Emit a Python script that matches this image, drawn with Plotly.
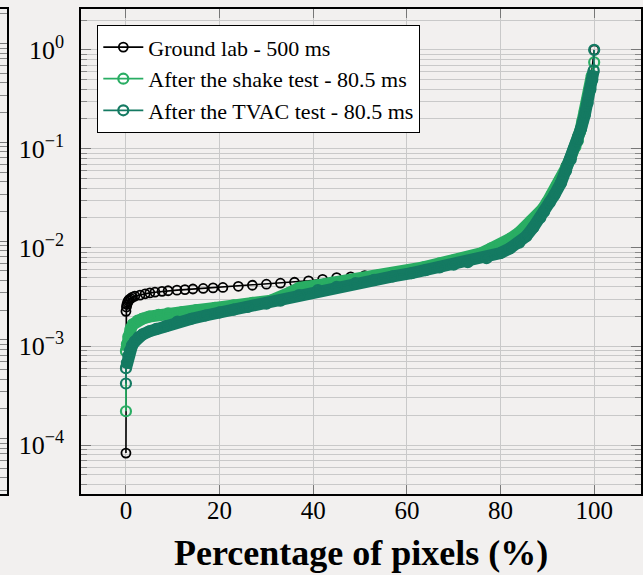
import plotly.graph_objects as go

# ---------------- data ----------------
ground_x = [0, 0, 0.1, 0.2, 0.35, 0.5, 0.7, 1.0, 1.4, 1.9, 3.0, 4.1, 5.1, 6.2, 7.7, 9.0,
            10.9, 12.6, 14.3, 16.5, 18.6, 20.7, 24, 27, 30, 33, 36, 39, 42, 45, 48, 51,
            54, 57, 60, 63, 66, 69, 72, 75, 78, 80, 82, 84, 86, 88, 89.5, 91, 92.5, 94,
            95.5, 96.5, 97.5, 98.5, 99.3, 100]
ground_y = [8.3e-5, 2.26e-3, 2.5e-3, 2.65e-3, 2.78e-3, 2.88e-3, 2.97e-3, 3.05e-3, 3.15e-3,
            3.22e-3, 3.3e-3, 3.4e-3, 3.47e-3, 3.53e-3, 3.6e-3, 3.65e-3, 3.7e-3, 3.75e-3,
            3.8e-3, 3.85e-3, 3.9e-3, 3.94e-3, 4.05e-3, 4.15e-3, 4.25e-3, 4.35e-3, 4.45e-3,
            4.6e-3, 4.75e-3, 4.95e-3, 5.05e-3, 5.2e-3, 5.3e-3, 5.45e-3, 5.7e-3, 6.0e-3,
            6.4e-3, 6.9e-3, 7.5e-3, 8.3e-3, 9.4e-3, 1.04e-2, 1.18e-2, 1.38e-2, 1.68e-2,
            2.1e-2, 2.6e-2, 3.4e-2, 4.8e-2, 6.7e-2, 0.1, 0.135, 0.19, 0.3, 0.5, 1.0]

shake_x = [0, 0, 0.2, 0.5, 1.0, 1.5, 2.5, 3.5, 5, 7, 9, 12, 15, 19, 23, 27, 31, 35, 37,
           41, 44, 48, 52, 56, 60, 63.5, 67, 70, 73, 76, 78, 80, 82, 84, 85, 86.5, 88, 89,
           90, 91, 92, 93, 94, 95, 96, 96.5, 97, 97.5, 98, 98.5, 99, 99.5, 100]
shake_y = [2.2e-4, 8.9e-4, 1.05e-3, 1.25e-3, 1.5e-3, 1.67e-3, 1.82e-3, 1.9e-3, 2.0e-3,
           2.08e-3, 2.15e-3, 2.22e-3, 2.32e-3, 2.45e-3, 2.6e-3, 2.75e-3, 2.9e-3, 3.5e-3,
           3.9e-3, 4.15e-3, 4.4e-3, 4.6e-3, 4.9e-3, 5.2e-3, 5.6e-3, 6.3e-3, 6.9e-3, 7.4e-3,
           7.9e-3, 8.8e-3, 9.8e-3, 1.07e-2, 1.22e-2, 1.42e-2, 1.56e-2, 1.85e-2, 2.15e-2,
           2.45e-2, 2.9e-2, 3.45e-2, 4.2e-2, 5.1e-2, 6.4e-2, 8.2e-2, 0.105, 0.12, 0.15, 0.19,
           0.24, 0.31, 0.4, 0.55, 0.75]

tvac_x = [0, 0, 0.2, 0.5, 0.85, 1.3, 1.9, 2.7, 3.6, 5, 6.5, 8.5, 11, 14, 17, 20, 23, 26,
          30, 33, 37, 41, 45, 49, 53, 57, 61, 64, 67, 70, 73, 77, 80, 82, 84, 85.5, 87,
          88.5, 89.3, 90.5, 91.5, 92.9, 94, 95, 96.4, 97.2, 98, 98.6, 99.2, 99.6, 99.9, 100]
tvac_y = [4.2e-4, 6.0e-4, 6.8e-4, 8.0e-4, 9.0e-4, 1.02e-3, 1.12e-3, 1.24e-3, 1.32e-3,
          1.42e-3, 1.5e-3, 1.6e-3, 1.78e-3, 1.9e-3, 2.05e-3, 2.2e-3, 2.35e-3, 2.5e-3,
          2.7e-3, 2.9e-3, 3.3e-3, 3.7e-3, 4.0e-3, 4.35e-3, 4.7e-3, 5.1e-3, 5.5e-3, 5.9e-3,
          6.3e-3, 6.7e-3, 7.1e-3, 7.8e-3, 8.8e-3, 9.8e-3, 1.12e-2, 1.3e-2, 1.6e-2, 2.0e-2,
          2.3e-2, 2.85e-2, 3.4e-2, 4.5e-2, 6.0e-2, 7.8e-2, 0.12, 0.16, 0.22, 0.29, 0.4, 0.5,
          0.62, 1.0]

names = ["Ground lab - 500 ms", "After the shake test - 80.5 ms", "After the TVAC test - 80.5 ms"]
x_ticks = [0, 20, 40, 60, 80, 100]
y_ticks = [1e-4, 1e-3, 1e-2, 1e-1, 1]
y_ticktext = ["10<sup>−4</sup>", "10<sup>−3</sup>", "10<sup>−2</sup>", "10<sup>−1</sup>", "10<sup>0</sup>"]

# ---------------- styles ----------------
C_BLACK = "#000000"
C_SHAKE = "#29ad63"
C_TVAC = "#147a62"
BG = "#f2f0ef"
GRID = "#c9c9c9"
FONT = "Liberation Serif"
minor_vals = [m * 10 ** e for e in range(-5, 1) for m in range(2, 10)]

fig = go.Figure()

fig.add_trace(go.Scatter(
    x=ground_x, y=ground_y, name=names[0], mode="lines+markers",
    line=dict(color=C_BLACK, width=1.6),
    marker=dict(symbol="circle-open", size=9, color=C_BLACK, line=dict(width=1.8)),
))

for xs, ys, col, nm in [(shake_x, shake_y, C_SHAKE, names[1]), (tvac_x, tvac_y, C_TVAC, names[2])]:
    fig.add_trace(go.Scatter(
        x=xs[1:-1], y=ys[1:-1], mode="lines", showlegend=False, hoverinfo="skip",
        line=dict(color=col, width=12),
    ))
    fig.add_trace(go.Scatter(
        x=xs, y=ys, name=nm, mode="lines+markers",
        line=dict(color=col, width=1.8),
        marker=dict(symbol="circle-open", size=10, color=col, line=dict(width=2.2)),
    ))

W, H = 643, 575
ML, MR, MT, MB = 0, 2, 9, 81
pw = W - ML - MR
ph = H - MT - MB
x0 = 81 / pw

axis_common = dict(showline=True, linecolor="black", linewidth=1.5, zeroline=False)

fig.update_layout(
    width=W, height=H,
    margin=dict(l=ML, r=MR, t=MT, b=MB),
    paper_bgcolor=BG, plot_bgcolor=BG,
    font=dict(family=FONT, color="black"),
    showlegend=True,
    legend=dict(
        x=97 / pw, y=1 - (25 - MT) / ph, xanchor="left", yanchor="top",
        bgcolor="white", bordercolor="black", borderwidth=1.3,
        font=dict(family=FONT, size=22, color="black"),
        tracegroupgap=0, itemwidth=40,
    ),
    xaxis=dict(
        domain=[x0, 1], range=[-9.6, 110], tickvals=x_ticks,
        ticks="inside", ticklen=9, tickcolor="#777", tickwidth=1, mirror="ticks",
        showgrid=True, gridcolor=GRID, gridwidth=1,
        tickfont=dict(family=FONT, size=25, color="black"), ticklabelstandoff=-7,
        **axis_common,
    ),
    yaxis=dict(
        type="log", range=[-4.495, 0.414], tickvals=y_ticks, ticktext=y_ticktext,
        ticks="inside", ticklen=10, tickcolor="#777", tickwidth=1, mirror="ticks",
        showgrid=True, gridcolor=GRID, gridwidth=1,
        minor=dict(tickvals=minor_vals, ticks="inside", ticklen=6, tickcolor="#888",
                   showgrid=True, gridcolor=GRID, gridwidth=1),
        tickfont=dict(family=FONT, size=26, color="black"), ticklabelstandoff=10,
        **axis_common,
    ),
    xaxis2=dict(domain=[0, 6.7 / pw], anchor="y2", range=[0, 1], showticklabels=False,
                showgrid=False, ticks="", mirror=True, **axis_common),
    yaxis2=dict(type="log", range=[-4.56, 0.35], anchor="x2", showticklabels=False,
                showgrid=False, tickvals=y_ticks, ticks="inside", ticklen=7, tickcolor="#777",
                mirror="ticks",
                minor=dict(tickvals=minor_vals, ticks="inside", ticklen=6, tickcolor="#888"),
                **axis_common),
    annotations=[dict(
        text="<b>Percentage of pixels (%)</b>", xref="paper", yref="paper",
        x=(361 - ML) / pw, y=-(553 - (H - MB)) / ph, xanchor="center", yanchor="middle",
        showarrow=False, font=dict(family=FONT, size=36, color="black"),
    )],
)

# invisible trace on the left panel so its axes are drawn
fig.add_trace(go.Scatter(x=[0.5], y=[1e-2], xaxis="x2", yaxis="y2", mode="markers",
                         marker=dict(opacity=0), showlegend=False, hoverinfo="skip"))

fig.write_html("out.html")
